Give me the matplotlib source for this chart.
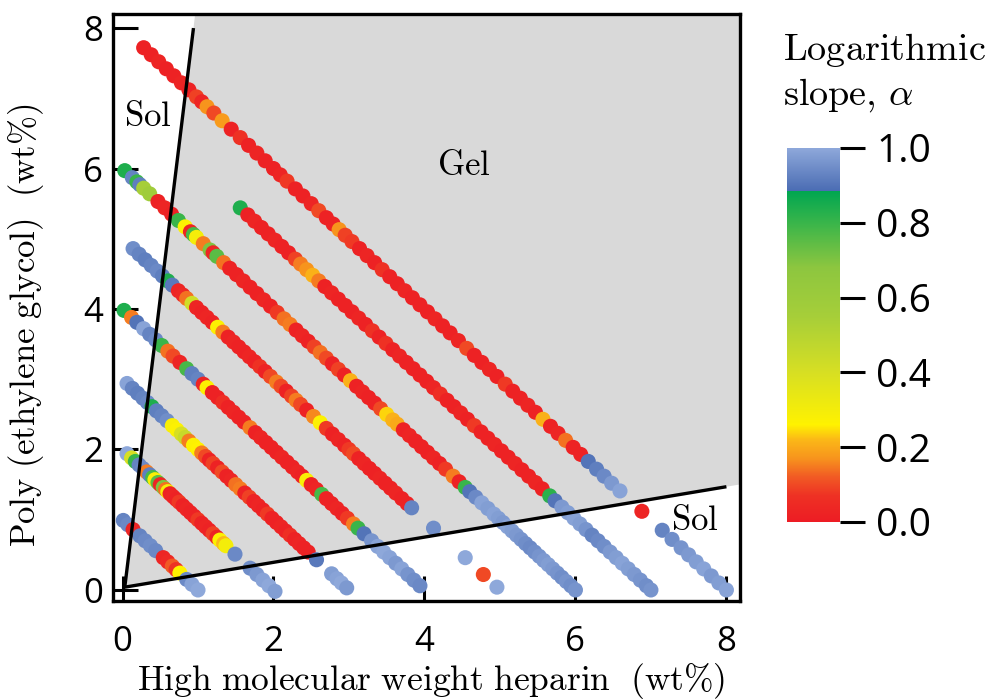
import numpy as np
import matplotlib
matplotlib.use("Agg")
import matplotlib.pyplot as plt
from matplotlib.colors import LinearSegmentedColormap, Normalize
from matplotlib.cm import ScalarMappable
from matplotlib.patches import Polygon

plt.rcParams['mathtext.fontset'] = 'cm'

# ---------------- data ----------------
# Each series: fixed total polymer content (heparin + PEG, wt%)
total_8 = 8.0
hep_8 = [0.28,0.38,0.48,0.58,0.68,0.78,0.88,0.98,1.05,1.12,1.21,1.32,1.44,1.56,1.67,1.78,1.89,
         2.0,2.09,2.18,2.29,2.39,2.5,2.6,2.7,2.79,2.87,2.95,3.04,3.14,3.24,3.34,3.44,3.54,3.64,3.74,3.84,3.94,
         4.04,4.14,4.24,4.34,4.45,4.56,4.66,4.76,4.86,4.96,5.07,5.17,5.27,5.37,5.47,5.57,5.67,5.77,5.87,5.97,
         6.07,6.17,6.28,6.38,6.48,6.59,6.88,7.15,7.28,7.4,7.5,7.6,7.7,7.8,7.9,8.0]
alpha_8 = [0.02,0.02,0.03,0.02,0.02,0.03,0.02,0.09,0.03,0.17,0.1,0.18,0.02,0.07,0.02,0.03,0.02,
           0.02,0.03,0.08,0.02,0.02,0.03,0.1,0.02,0.02,0.17,0.09,0.08,0.02,0.03,0.02,0.07,0.02,0.02,0.03,0.02,0.02,
           0.02,0.03,0.02,0.02,0.03,0.1,0.02,0.02,0.03,0.02,0.08,0.02,0.02,0.03,0.02,0.21,0.02,0.03,0.14,0.02,
           0.02,0.9,0.92,0.94,0.97,0.99,0.03,0.93,0.95,0.96,0.97,0.98,0.99,0.97,0.98,0.99]

total_7 = 7.0
hep_7 = [1.56,1.66,1.75,1.84,1.93,2.02,2.11,2.2,2.29,2.36,2.44,2.52,2.6,2.68,2.77,2.86,2.95,
         3.04,3.13,3.22,3.31,3.4,3.49,3.58,3.67,3.76,3.85,3.94,4.03,4.12,4.21,4.3,4.39,4.48,4.57,4.66,4.75,4.84,4.93,
         5.02,5.11,5.2,5.29,5.38,5.47,5.56,5.66,5.73,5.82,5.9,5.98,
         6.06,6.14,6.22,6.3,6.38,6.46,6.54,6.62,6.7,6.78,6.86,6.94,7.0]
alpha_7 = [0.84,0.02,0.03,0.02,0.02,0.03,0.02,0.02,0.09,0.15,0.17,0.21,0.15,0.02,0.03,0.02,0.02,
           0.02,0.03,0.02,0.07,0.02,0.07,0.02,0.03,0.02,0.02,0.02,0.02,0.03,0.06,0.02,0.02,0.03,0.02,0.08,0.02,0.02,0.03,
           0.02,0.02,0.03,0.02,0.02,0.03,0.02,0.82,0.9,0.97,0.98,0.99,
           0.98,0.96,0.93,0.94,0.95,0.97,0.98,0.99,0.98,0.97,0.96,0.95,0.96]

total_6 = 6.0
hep_6 = [0.03,0.13,0.19,0.23,0.28,0.36,0.47,0.56,0.65,0.74,0.83,0.9,0.94,0.98,
         1.07,1.16,1.2,1.25,1.34,1.42,1.51,1.6,1.69,1.78,1.87,1.96,
         2.05,2.14,2.22,2.3,2.38,2.46,2.54,2.62,2.7,2.78,2.86,2.94,
         3.02,3.1,3.18,3.26,3.34,3.42,3.5,3.58,3.64,3.72,3.8,3.88,3.96,
         4.04,4.12,4.2,4.28,4.38,4.46,4.54,4.6,4.68,4.76,4.84,4.92,4.98,
         5.04,5.1,5.16,5.22,5.28,5.34,5.4,5.46,5.52,5.58,5.64,5.7,5.76,5.82,5.88,5.94,6.0]
alpha_6 = [0.84,0.93,0.8,0.92,0.55,0.58,0.02,0.03,0.02,0.8,0.27,0.03,0.78,0.3,
           0.15,0.7,0.03,0.75,0.14,0.02,0.02,0.03,0.02,0.02,0.03,0.02,
           0.08,0.14,0.15,0.02,0.03,0.02,0.09,0.14,0.1,0.02,0.09,0.02,
           0.21,0.02,0.03,0.02,0.02,0.1,0.24,0.21,0.2,0.02,0.03,0.02,0.02,
           0.02,0.03,0.02,0.08,0.15,0.02,0.8,0.9,0.94,0.99,0.98,0.99,0.98,
           0.97,0.99,0.98,0.97,0.96,0.95,0.94,0.95,0.96,0.97,0.98,0.97,0.96,0.95,0.96,0.95,0.96]

total_5 = 5.0
hep_5 = [0.14,0.22,0.3,0.38,0.46,0.53,0.6,0.66,0.74,0.8,0.85,0.92,0.98,
         1.05,1.12,1.19,1.26,1.33,1.4,1.47,1.54,1.61,1.68,1.75,1.82,1.89,1.96,
         2.04,2.1,2.17,2.24,2.3,2.36,2.44,2.53,2.62,2.7,2.78,2.86,2.94,
         3.0,3.06,3.13,3.2,3.27,3.34,3.41,3.48,3.55,3.62,3.7,3.77,3.83,4.12,4.54,4.78,4.96]
alpha_5 = [0.95,0.93,0.92,0.93,0.94,0.92,0.84,0.91,0.03,0.04,0.14,0.42,0.03,
           0.02,0.03,0.02,0.27,0.15,0.02,0.03,0.02,0.02,0.03,0.02,0.07,0.02,0.1,
           0.15,0.1,0.02,0.09,0.15,0.1,0.02,0.16,0.27,0.08,0.02,0.03,0.02,
           0.08,0.1,0.02,0.03,0.02,0.02,0.03,0.02,0.02,0.03,0.02,0.02,0.93,0.95,1.0,0.1,1.0]

total_4 = 4.0
hep_4 = [0.02,0.12,0.19,0.28,0.36,0.44,0.52,0.6,0.67,0.76,0.85,0.92,
         1.0,1.07,1.12,1.19,1.26,1.33,1.4,1.47,1.54,1.61,1.69,1.76,1.83,1.9,1.97,
         2.04,2.11,2.18,2.25,2.32,2.38,2.44,2.5,2.57,2.64,2.7,2.77,2.84,2.91,2.98,
         3.06,3.12,3.2,3.3,3.38,3.46,3.54,3.62,3.7,3.78,3.86,3.94]
alpha_4 = [0.84,0.15,0.9,0.99,0.93,0.94,0.8,0.14,0.1,0.03,0.78,0.92,
           0.93,0.03,0.27,0.02,0.02,0.06,0.02,0.03,0.02,0.02,0.15,0.02,0.03,0.02,0.02,
           0.02,0.03,0.02,0.02,0.03,0.02,0.28,0.02,0.03,0.78,0.02,0.02,0.03,0.02,0.08,
           0.15,0.8,0.9,0.96,0.99,1.0,0.99,0.97,0.99,0.96,0.95,0.94]

total_3 = 3.0
hep_3 = [0.06,0.13,0.2,0.27,0.33,0.39,0.45,0.52,0.59,0.66,0.72,0.78,0.83,0.88,0.94,
         1.0,1.05,1.1,1.15,1.2,1.26,1.32,1.38,1.44,1.5,1.56,1.62,1.68,1.74,1.8,1.86,1.92,1.98,
         2.04,2.1,2.16,2.22,2.28,2.34,2.4,2.46,2.57,2.77,2.84,2.9,2.97]
alpha_3 = [0.99,0.93,0.92,0.93,0.94,0.84,0.92,0.93,0.95,0.28,0.27,0.4,0.45,0.15,0.27,
           0.26,0.15,0.1,0.02,0.09,0.02,0.1,0.02,0.03,0.14,0.15,0.02,0.09,0.02,0.03,0.02,0.08,0.02,
           0.02,0.03,0.02,0.06,0.02,0.03,0.02,0.02,0.91,0.98,0.99,1.0,0.97]

total_2 = 2.0
hep_2 = [0.06,0.12,0.17,0.22,0.27,0.32,0.36,0.4,0.43,0.47,
         0.5,0.54,0.57,0.6,0.63,0.67,0.71,0.75,0.8,0.85,0.9,0.95,
         1.0,1.05,1.1,1.15,1.2,1.25,1.29,1.34,1.37,1.49,1.69,1.78,1.86,1.94,2.02]
alpha_2 = [1.0,0.4,0.8,0.93,0.94,0.15,0.92,0.78,0.28,0.75,
           0.03,0.7,0.14,0.29,0.02,0.03,0.02,0.08,0.02,0.03,0.02,0.02,
           0.08,0.02,0.03,0.02,0.09,0.02,0.27,0.22,0.3,0.94,0.95,0.97,0.99,1.0,0.98]

total_1 = 1.0
hep_1 = [0.01,0.07,0.14,0.23,0.3,0.37,0.44,0.54,0.6,0.66,0.71,0.76,0.85,0.92,1.0]
alpha_1 = [0.93,0.94,0.03,0.93,0.94,0.95,0.94,0.03,0.04,0.12,0.07,0.26,0.94,0.99,1.0]

series = [(total_8, hep_8, alpha_8), (total_7, hep_7, alpha_7), (total_6, hep_6, alpha_6),
          (total_5, hep_5, alpha_5), (total_4, hep_4, alpha_4), (total_3, hep_3, alpha_3),
          (total_2, hep_2, alpha_2), (total_1, hep_1, alpha_1)]

# Sol-gel boundary lines (heparin, PEG)
upper_boundary_hep = [0.03, 0.94]
upper_boundary_peg = [0.04, 8.0]
lower_boundary_hep = [0.03, 8.0]
lower_boundary_peg = [0.04, 1.47]

cbar_ticks = [0.0, 0.2, 0.4, 0.6, 0.8, 1.0]
x_ticks = [0, 2, 4, 6, 8]
y_ticks = [0, 2, 4, 6, 8]

# ---------------- colormap ----------------
stops = [(0.0, '#ed1c24'), (0.07, '#ee3124'), (0.12, '#f15a24'), (0.17, '#f7941d'),
         (0.22, '#fbb817'), (0.26, '#fff200'), (0.4, '#d7df23'), (0.55, '#a6ce39'),
         (0.68, '#8dc63f'), (0.8, '#39b54a'), (0.885, '#00a651'), (0.8851, '#4a6cb3'),
         (1.0, '#8ea8da')]
cmap = LinearSegmentedColormap.from_list('alpha_cmap', stops, N=1024)
norm = Normalize(0, 1)

# ---------------- figure ----------------
W, H = 994, 700
fig = plt.figure(figsize=(W / 100, H / 100), dpi=100)
ax = fig.add_axes([113 / W, 1 - 601 / H, 627 / W, 587 / H])
xlim = (-0.126, 8.18)
ylim = (-0.157, 8.2)
ax.set_xlim(*xlim)
ax.set_ylim(*ylim)

# gray gel region (extend boundary lines to the frame)
su = (upper_boundary_peg[1] - upper_boundary_peg[0]) / (upper_boundary_hep[1] - upper_boundary_hep[0])
sl = (lower_boundary_peg[1] - lower_boundary_peg[0]) / (lower_boundary_hep[1] - lower_boundary_hep[0])
x0, y0 = upper_boundary_hep[0], upper_boundary_peg[0]
poly = [(x0, y0),
        (x0 + (ylim[1] - y0) / su, ylim[1]),
        (xlim[1], ylim[1]),
        (xlim[1], y0 + sl * (xlim[1] - x0))]
ax.add_patch(Polygon(poly, closed=True, facecolor='#d9d9d9', edgecolor='none', zorder=0))

for total, hep, al in series:
    hep = np.asarray(hep)
    peg = total - hep
    ax.scatter(hep, peg, c=al, cmap=cmap, norm=norm, s=118, linewidths=0, zorder=3)

ax.plot(upper_boundary_hep, upper_boundary_peg, color='black', lw=2.4, zorder=5, solid_capstyle='butt')
ax.plot(lower_boundary_hep, lower_boundary_peg, color='black', lw=2.4, zorder=5, solid_capstyle='butt')

ax.text(0.33, 6.75, r'$\mathrm{Sol}$', fontsize=25, ha='center', va='center')
ax.text(4.52, 6.05, r'$\mathrm{Gel}$', fontsize=25, ha='center', va='center')
ax.text(7.58, 1.0, r'$\mathrm{Sol}$', fontsize=25, ha='center', va='center')

for sp in ax.spines.values():
    sp.set_linewidth(2.4)
ax.set_xticks(x_ticks)
ax.set_yticks(y_ticks)
tick_font = ['Liberation Sans Narrow', 'Open Sans', 'DejaVu Sans']
ax.tick_params(direction='in', length=18, width=2.2, labelsize=25)
ax.tick_params(axis='x', pad=17)
ax.tick_params(axis='y', pad=7)
for lab in ax.get_xticklabels() + ax.get_yticklabels():
    lab.set_family(tick_font)

fig.text(431 / W, 1 - 690 / H, r'$\mathrm{High\ molecular\ weight\ heparin\ \ (wt\%)}$',
         fontsize=25.5, ha='center', va='baseline')
fig.text(26 / W, 1 - 325 / H, r'$\mathrm{Poly\ (ethylene\ glycol)\ \ (wt\%)}$',
         fontsize=25, ha='center', va='center', rotation=90)

# ---------------- colorbar ----------------
cax = fig.add_axes([787 / W, 1 - 522 / H, 53 / W, 374 / H])
sm = ScalarMappable(norm=norm, cmap=cmap)
cb = fig.colorbar(sm, cax=cax, ticks=cbar_ticks)
cb.outline.set_visible(False)
cb.ax.set_yticklabels([f'{t:.1f}' for t in cbar_ticks])
cb.ax.tick_params(length=18, width=2.2, labelsize=28, pad=8, direction='out')
for lab in cb.ax.get_yticklabels():
    lab.set_family(['Open Sans', 'DejaVu Sans'])

fig.text(783 / W, 1 - 50 / H, r'$\mathrm{Logarithmic}$', fontsize=27.5, ha='left', va='center')
fig.text(783 / W, 1 - 95 / H, r'$\mathrm{slope,}\,\alpha$', fontsize=27.5, ha='left', va='center')

fig.savefig('out.png', dpi=100)
